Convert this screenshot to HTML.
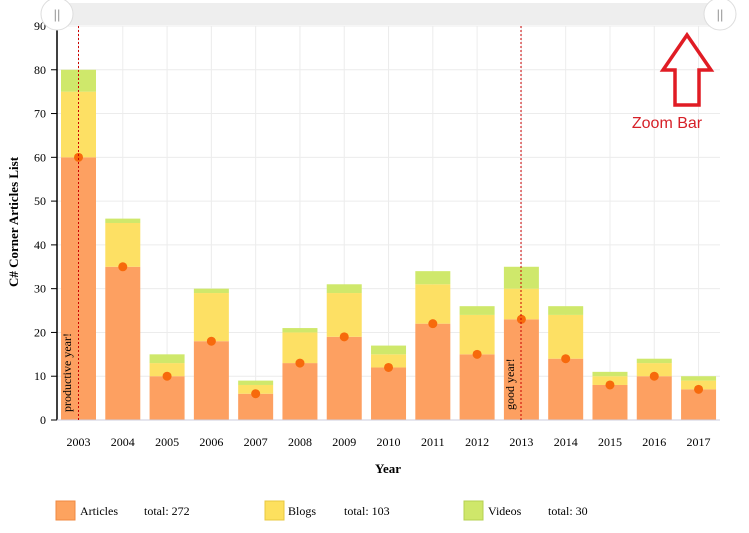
<!DOCTYPE html>
<html><head><meta charset="utf-8"><style>
body{margin:0;background:#fff;width:749px;height:533px;overflow:hidden}
svg{display:block;font-family:"Liberation Serif",serif}
</style></head><body>
<svg width="749" height="533" xmlns="http://www.w3.org/2000/svg">
<g id="grid" stroke="#ececec" stroke-width="1"></g>
<g id="bars"></g>
<line x1="57" y1="26" x2="57" y2="420" stroke="#000" stroke-width="1.5"/>
<line x1="57" y1="420" x2="720" y2="420" stroke="#ccd" stroke-width="1"/>
<g id="ylab" font-size="12" text-anchor="end" fill="#000"></g>
<g id="xlab" font-size="12" text-anchor="middle" fill="#000"></g>
<line x1="78.5" y1="26" x2="78.5" y2="420" stroke="#c00" stroke-dasharray="2,2" stroke-width="1"/>
<line x1="521" y1="26" x2="521" y2="420" stroke="#c00" stroke-dasharray="2,2" stroke-width="1"/>
<text transform="translate(71,412) rotate(-90)" font-size="12">productive year!</text>
<text transform="translate(514,410) rotate(-90)" font-size="12">good year!</text>
<text transform="translate(18,222) rotate(-90)" font-size="13" font-weight="bold" text-anchor="middle">C# Corner Articles List</text>
<text x="388" y="473" font-size="13" font-weight="bold" text-anchor="middle">Year</text>
<rect x="57" y="3" width="664" height="22" fill="#eeeeee"/>
<circle cx="57" cy="14" r="16" fill="#fff" stroke="#ddd"/>
<text x="57" y="19" font-size="13" text-anchor="middle" fill="#999" font-family="Liberation Sans">||</text>
<circle cx="720" cy="14" r="16" fill="#fff" stroke="#ddd"/>
<text x="720" y="19" font-size="13" text-anchor="middle" fill="#999" font-family="Liberation Sans">||</text>
<polygon points="687,35 711,70 699,70 699,105 675,105 675,70 663,70" fill="none" stroke="#e01c24" stroke-width="3.5"/>
<text x="667" y="128" font-size="16" fill="#d62028" text-anchor="middle" font-family="Liberation Sans">Zoom Bar</text>
<rect x="56" y="501" width="19" height="19" fill="#fda35f" stroke="#f08a40"/>
<text x="80" y="515" font-size="12">Articles</text><text x="144" y="515" font-size="12">total: 272</text>
<rect x="265" y="501" width="19" height="19" fill="#fde05e" stroke="#e8c840"/>
<text x="288" y="515" font-size="12">Blogs</text><text x="344" y="515" font-size="12">total: 103</text>
<rect x="464" y="501" width="19" height="19" fill="#cfe76a" stroke="#b5d050"/>
<text x="488" y="515" font-size="12">Videos</text><text x="548" y="515" font-size="12">total: 30</text>
</svg>
<script>
const A=[60,35,10,18,6,13,19,12,22,15,23,14,8,10,7],B=[15,10,3,11,2,7,10,3,9,9,7,10,2,3,2],V=[5,1,2,1,1,1,2,2,3,2,5,2,1,1,1];
const ns="http://www.w3.org/2000/svg",y=v=>420-v*4.378,x=i=>78.5+i*44.29;
function el(p,t,a,txt){const e=document.createElementNS(ns,t);for(const k in a)e.setAttribute(k,a[k]);if(txt!=null)e.textContent=txt;document.getElementById(p).appendChild(e);}
for(let v=0;v<=90;v+=10){el("grid","line",{x1:57,x2:720,y1:y(v),y2:y(v)});el("ylab","text",{x:46,y:y(v)+4},v);el("ylab","line",{x1:51,x2:57,y1:y(v),y2:y(v),stroke:"#000"});}
for(let i=0;i<15;i++){const cx=x(i);el("grid","line",{x1:cx,x2:cx,y1:26,y2:420});
el("xlab","text",{x:cx,y:446},2003+i);
const w=35,l=cx-w/2;
el("bars","rect",{x:l,y:y(A[i]),width:w,height:A[i]*4.378,fill:"#fda061"});
el("bars","rect",{x:l,y:y(A[i]+B[i]),width:w,height:B[i]*4.378,fill:"#fde064"});
el("bars","rect",{x:l,y:y(A[i]+B[i]+V[i]),width:w,height:V[i]*4.378,fill:"#cfe86b"});
el("bars","circle",{cx:cx,cy:y(A[i]),r:4.5,fill:"#f76a0c"});}
</script>
</body></html>
